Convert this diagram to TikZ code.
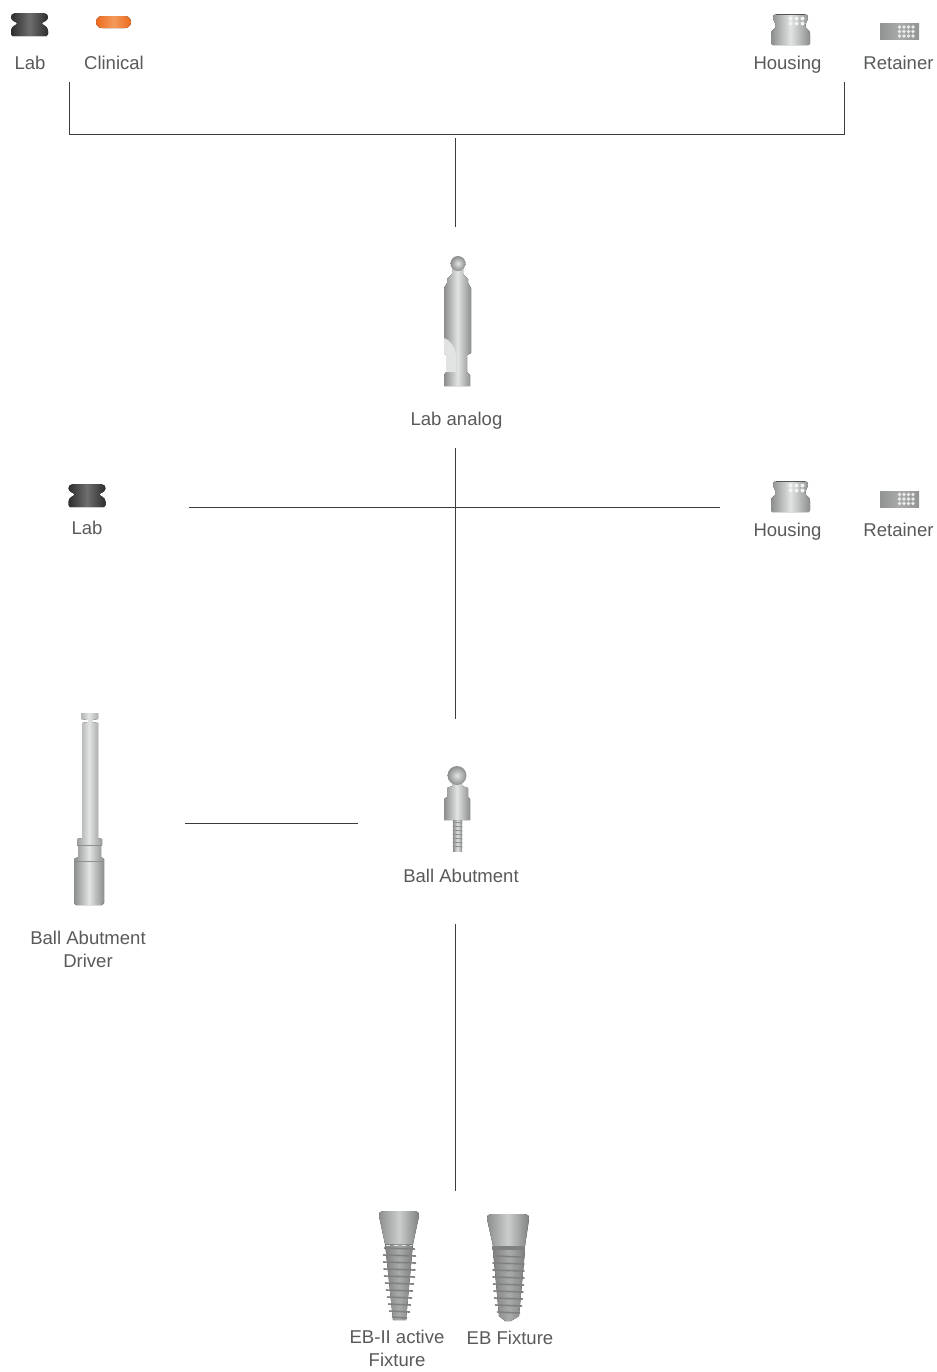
\documentclass[tikz,border=0pt]{standalone}
\usepackage{fontspec}
\setmainfont{Liberation Sans}
\definecolor{labeltext}{HTML}{58595B}
\definecolor{linegray}{HTML}{3C3C3C}
\definecolor{steel}{HTML}{A9ABAB}
\definecolor{steeldark}{HTML}{8C8E8E}
\definecolor{steelpale}{HTML}{E2E3E3}
\definecolor{ringdark}{HTML}{2C2C2C}
\definecolor{ringlight}{HTML}{6E6E6E}
\definecolor{pillorange}{HTML}{EE6A1F}
\definecolor{pilllight}{HTML}{F39A5C}
\tikzset{
  partlabel/.style={text=labeltext, anchor=base, align=center, inner sep=0pt,
    font=\fontsize{13.9}{17}\selectfont},
  connector/.style={draw=linegray, line width=0.6pt},
  metal/.style={left color=steeldark, right color=steeldark, middle color=steelpale},
  ballmetal/.style={inner color=steelpale, outer color=steeldark},
  fixturetop/.style={left color=steeldark, right color=steeldark!90!black, middle color=white!40!steel},
  fixturebody/.style={left color=gray, right color=gray, middle color=steel},
  threadline/.style={draw=gray, line width=1.2pt, line cap=round},
  labring/.pic={
    \fill[left color=ringdark, right color=ringdark, middle color=ringlight]
      (-14,-11.5) -- (14,-11.5) .. controls (17,-11.5) and (19,-9) .. (18.5,-7)
      .. controls (18,-3) and (13,-3) .. (12.5,-1) .. controls (13,1) and (18,1) .. (18.5,6)
      .. controls (19,9) and (18.5,11) .. (17,11.5) -- (-17,11.5)
      .. controls (-18.5,11) and (-19,9) .. (-18.5,6) .. controls (-18,1) and (-13,1) .. (-12.5,-1)
      .. controls (-13,-3) and (-18,-3) .. (-18.5,-7) .. controls (-19,-9) and (-17,-11.5) .. (-14,-11.5) -- cycle;
  },
  housingcap/.pic={
    \fill[metal] (-15,-15.5) -- (15,-15.5) .. controls (17,-15.5) and (17.5,-13) .. (17.5,-11)
      .. controls (17.5,-8) and (15,-8) .. (15,-5) -- (15,-3) .. controls (15,0) and (19.5,0) .. (19.5,4)
      -- (19.5,14) -- (18,15.5) -- (-18,15.5) -- (-19.5,14) -- (-19.5,4)
      .. controls (-19.5,0) and (-15,0) .. (-15,-3) -- (-15,-5) .. controls (-15,-8) and (-17.5,-8) .. (-17.5,-11)
      .. controls (-17.5,-13) and (-17,-15.5) .. (-15,-15.5) -- cycle;
    \draw[steeldark!60!black, line width=0.8pt] (-14.5,-15.3) -- (14.5,-15.3);
    \foreach \dotx in {0,6,12} \foreach \doty in {-11,-6}
      \fill[white!85!steel] (\dotx,\doty) circle (2);
  },
  retainer/.pic={
    \fill[left color=steeldark!80!steel, right color=steeldark!80!steel, middle color=steel] (-19.5,-8) rectangle (19.5,8);
    \foreach \dotx in {0,4.5,9,13.5} \foreach \doty in {-4.5,0,4.5}
      \fill[white!75!steel] (\dotx,\doty) circle (1.8);
  },
}

\begin{document}
\begin{tikzpicture}[x=0.75pt, y=-0.75pt]

\useasboundingbox (0,0) rectangle (937,1372);

% top row
\path (29.5,24.5) pic {labring};
\fill[left color=pillorange, right color=pillorange, middle color=pilllight, rounded corners=4.5pt] (96,16) rectangle (131,28);
\path (790.5,29.5) pic {housingcap};
\path (899.5,31.5) pic {retainer};
\node[partlabel] (labTop) at (30,69) {Lab};
\node[partlabel] (clinicalTop) at (114,69) {Clinical};
\node[partlabel] (housingTop) at (787.5,69) {Housing};
\node[partlabel] (retainerTop) at (898.5,69) {Retainer};

% lab analog
\fill[metal] (452,268) -- (463,268) -- (463,274) -- (468,279) -- (468,283) -- (471,288) -- (471,353) -- (467,355) -- (467,372) -- (470,375) -- (470,386) -- (444,386) -- (444,375) -- (446,372) -- (446,355) -- (444,353) -- (444,288) -- (447,283) -- (447,279) -- (452,274) -- cycle;
\fill[steelpale] (444,338) .. controls (450,340) and (455,346) .. (456,356) -- (456,372) -- (446,372) -- (446,355) -- (444,353) -- cycle;
\shade[ballmetal] (458,263.5) circle (7.5);
\node[partlabel] (labAnalog) at (456.5,425) {Lab analog};

% second row
\path (87,495.5) pic {labring};
\path (790.5,496.5) pic {housingcap};
\path (899.5,499) pic {retainer};
\node[partlabel] (labMid) at (87,534) {Lab};
\node[partlabel] (housingMid) at (787.5,536) {Housing};
\node[partlabel] (retainerMid) at (898.5,536) {Retainer};

% driver
\fill[metal] (81,713) -- (98,713) -- (98,719) -- (92,720) -- (92,722) -- (98,723) -- (98,838) -- (102,839) -- (102,845) -- (101,846) -- (101,857) -- (104,859) -- (104,903) -- (102,905) -- (76,905) -- (74,903) -- (74,859) -- (78,857) -- (78,846) -- (77,845) -- (77,839) -- (82,838) -- (82,723) -- (88,722) -- (88,720) -- (81,719) -- cycle;
\draw[steeldark, line width=0.5pt] (77,845) -- (102,845) (74,861) -- (104,861);
\node[partlabel] (driverLabel) at (88,967) {Ball Abutment\\Driver};

% ball abutment
\fill[metal] (453,820) rectangle (462,851);
\foreach \threadY in {822,826,...,848}
  \draw[steeldark, line width=0.6pt] (452.5,\threadY) -- (462.5,\threadY+1);
\fill[metal] (452,782) -- (462,782) -- (462,786) -- (468,788) -- (468,797) -- (470,799) -- (470,820) -- (444,820) -- (444,799) -- (447,797) -- (447,788) -- (452,786) -- cycle;
\shade[ballmetal] (457,775.5) circle (9.5);
\node[partlabel] (ballAbutment) at (461,882) {Ball Abutment};

% fixtures
\fill[fixturebody] (385,1243) -- (413,1243) -- (406,1320) -- (393,1320) -- cycle;
\foreach \threadY/\threadW in {1248/15,1255/16,1262/16,1269/15.5,1276/15,1283/14,1290/13,1297/12,1304/11,1311/10,1317/7}
  \draw[threadline] (399.5-\threadW,\threadY) -- (399.5+\threadW,\threadY+1);
\fill[fixturetop] (383,1211) -- (415,1211) .. controls (418,1211) and (419.5,1213) .. (419,1216) -- (413,1244) -- (385,1244) -- (379,1216) .. controls (378.5,1213) and (380,1211) .. (383,1211) -- cycle;
\draw[steelpale, line width=0.8pt, dashed] (386,1245.5) -- (412,1245.5);
\fill[fixturebody] (493,1250) -- (525,1250) -- (519,1316) -- (511,1321) -- (505,1321) -- (499,1316) -- cycle;
\foreach \threadY/\threadW in {1256/15,1263/15.5,1270/15.5,1277/15.5,1284/15,1291/14.5,1298/14,1305/13,1312/11}
  \draw[threadline] (508.5-\threadW,\threadY) -- (508.5+\threadW,\threadY+1);
\fill[fixturetop] (491,1214) -- (525,1214) .. controls (528,1214) and (529.5,1216) .. (529,1219) -- (525,1246) -- (493,1246) -- (487,1219) .. controls (486.5,1216) and (488,1214) .. (491,1214) -- cycle;
\fill[gray] (492,1246) rectangle (525,1250);
\node[partlabel] (ebActive) at (397,1366) {EB-II active\\Fixture};
\node[partlabel] (ebFixture) at (510,1344) {EB Fixture};

% connectors
\coordinate (bracketL) at (69.7,82);
\coordinate (bracketLB) at (69.7,134.5);
\coordinate (bracketRB) at (844.7,134.5);
\coordinate (bracketR) at (844.7,82);
\coordinate (stemA) at (455.5,138);
\coordinate (stemB) at (455.5,227);
\coordinate (stemC) at (455.5,448);
\coordinate (stemD) at (455.5,719);
\coordinate (crossL) at (189,507.5);
\coordinate (crossR) at (720,507.5);
\coordinate (driverL) at (185,823);
\coordinate (driverR) at (358,823);
\coordinate (stemE) at (455.5,924);
\coordinate (stemF) at (455.5,1191);
\draw[connector] (bracketL) -- (bracketLB) -- (bracketRB) -- (bracketR);
\draw[connector] (stemA) -- (stemB);
\draw[connector] (stemC) -- (stemD);
\draw[connector] (crossL) -- (crossR);
\draw[connector] (driverL) -- (driverR);
\draw[connector] (stemE) -- (stemF);

\end{tikzpicture}
\end{document}
